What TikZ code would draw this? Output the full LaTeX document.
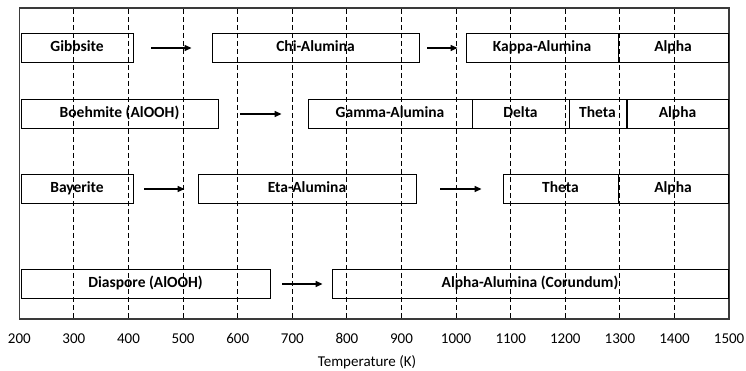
\documentclass[tikz,border=0pt]{standalone}
\usepackage{fontspec}
\setmainfont{Carlito}
\usetikzlibrary{arrows.meta}
\definecolor{inkframe}{HTML}{3A3A3A}
\tikzset{
  phase/.style={draw=black, line width=0.9pt, inner sep=0pt,
    minimum height=28.5pt, text height=10.5pt, text depth=3pt,
    font=\fontsize{15.5}{18}\selectfont\bfseries},
  tempgrid/.style={black, line width=0.9pt, dash pattern=on 5pt off 3pt},
  flow/.style={-{Triangle[length=7pt,width=6pt]}, line width=1.5pt},
  ticklab/.style={font=\fontsize{15}{17}\selectfont, inner sep=1pt,
    text height=10pt, text depth=3pt}
}

\begin{document}
\begin{tikzpicture}[x=1pt, y=-1pt]
  \useasboundingbox (0,0) rectangle (746,371);
  % temperature grid
  \foreach \t in {300,400,...,1400}{%
    \draw[tempgrid] ({19.3+(\t-200)*0.546},9) -- ({19.3+(\t-200)*0.546},319);}
  \draw[inkframe, line width=1.2pt] (19.3,8) rectangle (729,319);
  % phases: name/left/right/row
  \foreach \nm/\xa/\xb/\yy/\lab in {gib/21/133/48/Gibbsite,
      chi/212/419/48/Chi-Alumina, kappa/466/618/48/Kappa-Alumina,
      alphaA/618/728/48/Alpha,
      boe/21/218/114/Boehmite (AlOOH), gamma/308/472/114/Gamma-Alumina,
      delta/472/569/114/Delta, thetaB/569/626/114/Theta,
      alphaB/627/728/114/Alpha,
      bay/21/133/189/Bayerite, eta/198/416/189/Eta-Alumina,
      thetaC/503/618/189/Theta, alphaC/618/728/189/Alpha,
      dia/21/270/284/Diaspore (AlOOH),
      cor/332/728/284/Alpha-Alumina (Corundum)}{%
    \node[phase, minimum width={\xb pt-\xa pt}] (\nm) at ({(\xa+\xb)/2},\yy) {\lab};}
  % transitions
  \draw[flow] ([xshift=18pt]gib.east) -- ([xshift=-20pt]chi.west);
  \draw[flow] ([xshift=8pt]chi.east) -- ([xshift=-8pt]kappa.west);
  \draw[flow] ([xshift=22pt]boe.east) -- ([xshift=-26pt]gamma.west);
  \draw[flow] ([xshift=11pt]bay.east) -- ([xshift=-13pt]eta.west);
  \draw[flow] ([xshift=24pt]eta.east) -- ([xshift=-21pt]thetaC.west);
  \draw[flow] ([xshift=12pt]dia.east) -- ([xshift=-9pt]cor.west);
  % axis
  \foreach \t in {200,300,...,1500}{%
    \node[ticklab] (t\t) at ({19.3+(\t-200)*0.546},340) {\t};}
  \node[ticklab] (taxis) at (367,363) {Temperature (K)};
\end{tikzpicture}
\end{document}
